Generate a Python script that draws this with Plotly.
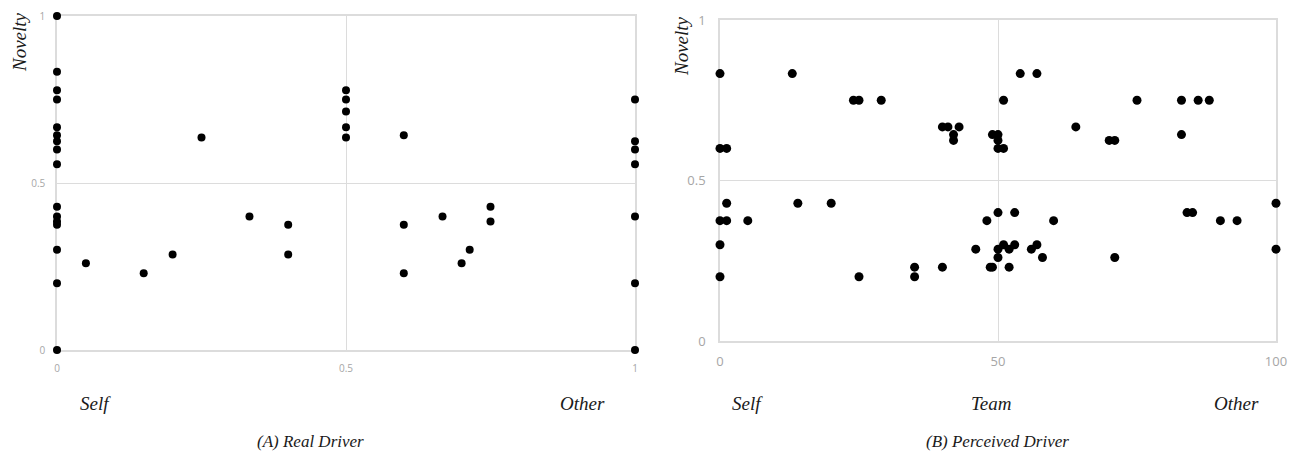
import plotly.graph_objects as go

# (A) Real Driver: x = driver (0 = Self, 1 = Other), y = novelty
real_x = [0, 0, 0, 0, 0, 0, 0, 0, 0, 0, 0, 0, 0, 0, 0, 0,
          0.05, 0.15, 0.2, 0.25, 0.333, 0.4, 0.4,
          0.5, 0.5, 0.5, 0.5, 0.5,
          0.6, 0.6, 0.6, 0.667, 0.7, 0.714, 0.75, 0.75,
          1, 1, 1, 1, 1, 1, 1]
real_y = [1.0, 0.833, 0.778, 0.75, 0.667, 0.643, 0.625, 0.6, 0.556, 0.429, 0.4, 0.385, 0.375, 0.3, 0.2, 0.0,
          0.26, 0.23, 0.286, 0.636, 0.4, 0.375, 0.286,
          0.778, 0.75, 0.714, 0.667, 0.636,
          0.643, 0.375, 0.23, 0.4, 0.26, 0.3, 0.429, 0.385,
          0.75, 0.625, 0.6, 0.556, 0.4, 0.2, 0.0]

# (B) Perceived Driver: x = driver score (0 = Self, 50 = Team, 100 = Other), y = novelty
perc_x = [0, 0, 1.2, 13, 24, 25, 29, 40, 41, 42, 42, 43,
          49, 50, 50, 50, 51, 51, 54, 57, 64, 70, 71, 75, 83, 83, 86, 88,
          1.2, 0, 1.2, 5, 0, 0, 14, 20, 25, 35, 35, 40, 46, 48, 48.6,
          50, 53, 60, 49, 50, 50, 51, 52, 52, 53, 56, 57, 58, 71,
          84, 85, 90, 93, 100, 100]
perc_y = [0.833, 0.6, 0.6, 0.833, 0.75, 0.75, 0.75, 0.667, 0.667, 0.643, 0.625, 0.667,
          0.643, 0.643, 0.625, 0.6, 0.6, 0.75, 0.833, 0.833, 0.667, 0.625, 0.625, 0.75, 0.75, 0.643, 0.75, 0.75,
          0.429, 0.375, 0.375, 0.375, 0.3, 0.2, 0.429, 0.429, 0.2, 0.23, 0.2, 0.23, 0.286, 0.375, 0.23,
          0.4, 0.4, 0.375, 0.23, 0.26, 0.286, 0.3, 0.286, 0.23, 0.3, 0.286, 0.3, 0.26, 0.26,
          0.4, 0.4, 0.375, 0.375, 0.429, 0.286]

real_ticks = [0, 0.5, 1]
real_ticktext = ["0", "0.5", "1"]
perc_xticks = [0, 50, 100]
perc_yticks = [0, 0.5, 1]

PAGE_W, PAGE_H = 1298, 462
OFF = 8  # default page body margin
W, H = PAGE_W - 2 * OFF, PAGE_H - 2 * OFF
SERIF = "Liberation Serif"
TICKFONT_A = dict(family="Open Sans", size=10, color="#a6a6a6")
TICKFONT_B = dict(family="Open Sans", size=13, color="#a6a6a6")
GRID = "#dcdcdc"

fig = go.Figure()
fig.add_trace(go.Scatter(x=real_x, y=real_y, mode="markers", xaxis="x", yaxis="y",
                         marker=dict(color="black", size=8), cliponaxis=False, showlegend=False))
fig.add_trace(go.Scatter(x=perc_x, y=perc_y, mode="markers", xaxis="x2", yaxis="y2",
                         marker=dict(color="black", size=9), cliponaxis=False, showlegend=False))

def px(v):
    return (v - OFF) / W

def py(v):
    return 1 - (v - OFF) / H

common = dict(showgrid=True, gridcolor=GRID, gridwidth=1, zeroline=False,
              showline=True, mirror=True, linecolor=GRID, linewidth=1.5,
              ticks="", automargin=False, layer="below traces")

fig.update_layout(
    width=W, height=H,
    margin=dict(l=0, r=0, t=0, b=0, autoexpand=False),
    paper_bgcolor="white", plot_bgcolor="white",
    xaxis=dict(domain=[px(57), px(635)], range=[0, 1], tickvals=real_ticks, ticktext=real_ticktext,
               tickfont=TICKFONT_A, ticklabelstandoff=8, anchor="y", **common),
    yaxis=dict(domain=[py(350), py(16)], range=[0, 1], tickvals=real_ticks, ticktext=real_ticktext,
               tickfont=TICKFONT_A, ticklabelstandoff=8, anchor="x", **common),
    xaxis2=dict(domain=[px(720), px(1276)], range=[0, 100], tickvals=perc_xticks,
                tickfont=TICKFONT_B, ticklabelstandoff=8, anchor="y2", **common),
    yaxis2=dict(domain=[py(341), py(20)], range=[0, 1], tickvals=perc_yticks, ticktext=["0", "0.5", "1"],
                tickfont=TICKFONT_B, ticklabelstandoff=10, anchor="x2", **common),
)

def ann(text, x, y, size, angle=0, yanchor="middle"):
    fig.add_annotation(text=text, x=px(x), y=py(y), xref="paper", yref="paper",
                       showarrow=False, textangle=angle,
                       font=dict(family=SERIF, size=size, color="#1a1a1a"),
                       xanchor="center", yanchor=yanchor)

ann("<i>Novelty</i>", 19, 42, 19, -90)
ann("<i>Novelty</i>", 681, 46, 19, -90)
ann("<i>Self</i>", 95, 403, 19)
ann("<i>Other</i>", 582, 403, 19)
ann("<i>Self</i>", 747, 403, 19)
ann("<i>Team</i>", 991, 403, 19)
ann("<i>Other</i>", 1236, 403, 19)
# captions: anchored to the bottom edge of the figure so they stay fully visible
ann("<i>(A) Real Driver</i>", 310, PAGE_H - OFF - 1, 17, yanchor="bottom")
ann("<i>(B) Perceived Driver</i>", 997, PAGE_H - OFF - 1, 17, yanchor="bottom")

fig.write_html("out.html")
